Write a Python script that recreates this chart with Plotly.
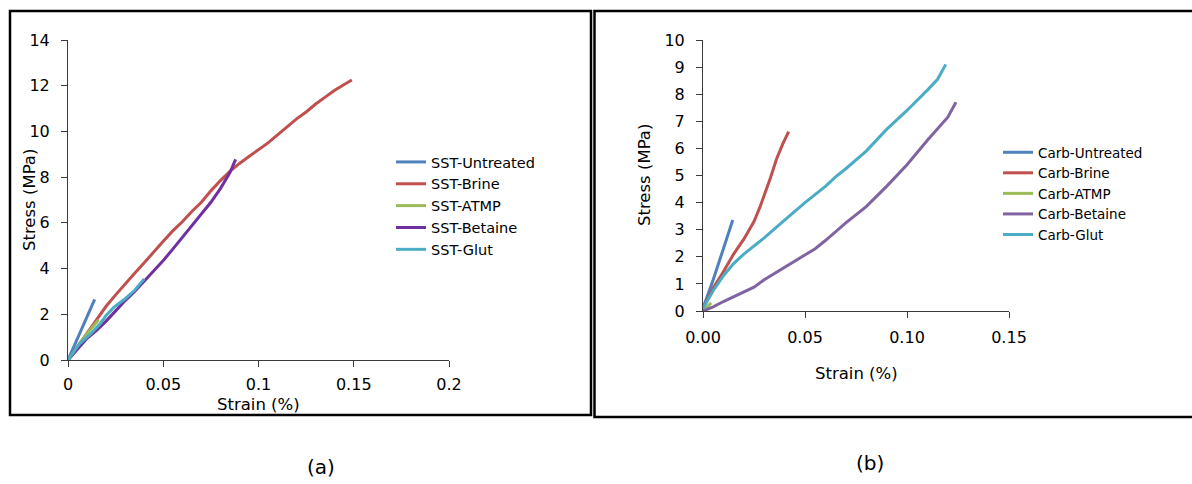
import plotly.graph_objects as go

# ---- (a) sandstone samples ----
sst_untreated_strain = [0, 0.004, 0.008, 0.011, 0.014]
sst_untreated_stress = [0, 0.75, 1.5, 2.1, 2.65]

sst_brine_strain = [0, 0.005, 0.01, 0.015, 0.02, 0.025, 0.03, 0.035, 0.04, 0.045, 0.05, 0.055,
                    0.06, 0.065, 0.07, 0.075, 0.08, 0.085, 0.09, 0.095, 0.1, 0.105, 0.11, 0.115,
                    0.12, 0.125, 0.13, 0.135, 0.14, 0.145, 0.149]
sst_brine_stress = [0, 0.6, 1.2, 1.8, 2.35, 2.85, 3.35, 3.8, 4.25, 4.75, 5.2, 5.65,
                    6.05, 6.5, 6.9, 7.4, 7.85, 8.25, 8.6, 8.9, 9.2, 9.5, 9.85, 10.2,
                    10.55, 10.85, 11.2, 11.5, 11.8, 12.05, 12.25]

sst_atmp_strain = [0, 0.005, 0.01, 0.016]
sst_atmp_stress = [0, 0.6, 1.15, 1.75]

sst_betaine_strain = [0, 0.005, 0.01, 0.015, 0.02, 0.025, 0.03, 0.035, 0.04, 0.045, 0.05,
                      0.055, 0.06, 0.065, 0.07, 0.075, 0.08, 0.085, 0.088]
sst_betaine_stress = [0, 0.5, 0.95, 1.3, 1.7, 2.15, 2.6, 3.0, 3.45, 3.9, 4.35,
                      4.85, 5.35, 5.85, 6.35, 6.9, 7.5, 8.2, 8.78]

sst_glut_strain = [0, 0.006, 0.012, 0.017, 0.02, 0.024, 0.03, 0.035, 0.04]
sst_glut_stress = [0, 0.7, 1.15, 1.6, 1.95, 2.3, 2.68, 3.05, 3.55]

# ---- (b) carbonate samples ----
carb_untreated_strain = [0, 0.005, 0.01, 0.0146]
carb_untreated_stress = [0.1, 1.15, 2.3, 3.36]

carb_brine_strain = [0, 0.005, 0.01, 0.015, 0.02, 0.025, 0.028, 0.031, 0.033, 0.036, 0.039, 0.042]
carb_brine_stress = [0.1, 0.85, 1.45, 2.1, 2.65, 3.3, 3.85, 4.45, 4.9, 5.6, 6.15, 6.62]

carb_atmp_strain = [0, 0.002, 0.004]
carb_atmp_stress = [0, 0.15, 0.3]

carb_betaine_strain = [0, 0.005, 0.01, 0.015, 0.02, 0.025, 0.03, 0.04, 0.05, 0.055, 0.06,
                       0.07, 0.08, 0.09, 0.1, 0.11, 0.12, 0.124]
carb_betaine_stress = [0, 0.15, 0.35, 0.52, 0.7, 0.88, 1.15, 1.6, 2.08, 2.3, 2.6,
                       3.25, 3.85, 4.6, 5.4, 6.3, 7.15, 7.7]

carb_glut_strain = [0, 0.005, 0.01, 0.015, 0.02, 0.03, 0.04, 0.05, 0.06, 0.065, 0.07,
                    0.08, 0.09, 0.1, 0.11, 0.115, 0.119]
carb_glut_stress = [0.1, 0.75, 1.3, 1.75, 2.1, 2.7, 3.35, 4.0, 4.6, 4.95, 5.25,
                    5.9, 6.7, 7.4, 8.15, 8.55, 9.1]

W, H = 1192, 484
FONT = "DejaVu Sans"
AX_COL = "#3a3a3a"


def px(x):
    return x / W


def py(y):
    return (H - y) / H


fig = go.Figure()

left_series = [
    ("SST-Untreated", sst_untreated_strain, sst_untreated_stress, "#4F81BD"),
    ("SST-Brine", sst_brine_strain, sst_brine_stress, "#C0504D"),
    ("SST-ATMP", sst_atmp_strain, sst_atmp_stress, "#9BBB59"),
    ("SST-Betaine", sst_betaine_strain, sst_betaine_stress, "#7030A0"),
    ("SST-Glut", sst_glut_strain, sst_glut_stress, "#4BACC6"),
]
for name, xs, ys, col in left_series:
    fig.add_trace(go.Scatter(x=xs, y=ys, name=name, mode="lines",
                             line=dict(color=col, width=3),
                             xaxis="x", yaxis="y", legend="legend"))

right_series = [
    ("Carb-Untreated", carb_untreated_strain, carb_untreated_stress, "#4F81BD"),
    ("Carb-Brine", carb_brine_strain, carb_brine_stress, "#C0504D"),
    ("Carb-ATMP", carb_atmp_strain, carb_atmp_stress, "#9BBB59"),
    ("Carb-Betaine", carb_betaine_strain, carb_betaine_stress, "#8064A2"),
    ("Carb-Glut", carb_glut_strain, carb_glut_stress, "#4BACC6"),
]
for name, xs, ys, col in right_series:
    fig.add_trace(go.Scatter(x=xs, y=ys, name=name, mode="lines",
                             line=dict(color=col, width=3),
                             xaxis="x2", yaxis="y2", legend="legend2"))

axis_common = dict(showline=True, linecolor=AX_COL, linewidth=1, ticks="outside",
                   ticklen=6, tickcolor=AX_COL, showgrid=False, zeroline=False,
                   automargin=False,
                   tickfont=dict(family=FONT, size=16, color="black"))

fig.update_layout(
    width=W, height=H, margin=dict(l=0, r=0, t=0, b=0, autoexpand=False),
    paper_bgcolor="white", plot_bgcolor="white",
    font=dict(family=FONT, color="black"),
    xaxis=dict(domain=[px(68), px(449)], range=[0, 0.2], tickvals=[0, 0.05, 0.1, 0.15, 0.2],
               anchor="y", ticklabelstandoff=4, **axis_common),
    yaxis=dict(domain=[py(360), py(40)], range=[0, 14], dtick=2, anchor="x",
               ticklabelstandoff=8, **axis_common),
    xaxis2=dict(domain=[px(703), px(1009)], range=[0, 0.15], tickvals=[0, 0.05, 0.1, 0.15],
                tickformat=".2f", anchor="y2", ticklabelstandoff=6, **axis_common),
    yaxis2=dict(domain=[py(311), py(40)], range=[0, 10], dtick=1, anchor="x2",
                ticklabelstandoff=8, **axis_common),
    legend=dict(x=px(391), y=py(146), xanchor="left", yanchor="top",
                font=dict(family=FONT, size=14.5, color="black"), bgcolor="rgba(0,0,0,0)",
                tracegroupgap=0),
    legend2=dict(x=px(998), y=py(137), xanchor="left", yanchor="top",
                 font=dict(family=FONT, size=13.5, color="black"), bgcolor="rgba(0,0,0,0)",
                 tracegroupgap=0),
    showlegend=True,
)

# panel frames
fig.add_shape(type="rect", xref="paper", yref="paper",
              x0=px(10), x1=px(591), y0=py(415), y1=py(11),
              line=dict(color="black", width=2.5), layer="below")
fig.add_shape(type="rect", xref="paper", yref="paper",
              x0=px(594.5), x1=px(1196), y0=py(417), y1=py(11),
              line=dict(color="black", width=2.5), layer="below")

title_font = dict(family=FONT, size=16.5, color="black")
annotations = [
    dict(text="Stress (MPa)", x=px(30), y=py(200), textangle=-90, font=title_font),
    dict(text="Strain (%)", x=px(258), y=py(404), font=title_font),
    dict(text="Stress (MPa)", x=px(645), y=py(175), textangle=-90, font=title_font),
    dict(text="Strain (%)", x=px(856), y=py(373), font=title_font),
    dict(text="(a)", x=px(321), y=py(467), font=dict(family=FONT, size=20, color="black")),
    dict(text="(b)", x=px(870), y=py(463), font=dict(family=FONT, size=20, color="black")),
]
for a in annotations:
    fig.add_annotation(xref="paper", yref="paper", showarrow=False,
                       xanchor="center", yanchor="middle", **a)

fig.write_html("out.html")
